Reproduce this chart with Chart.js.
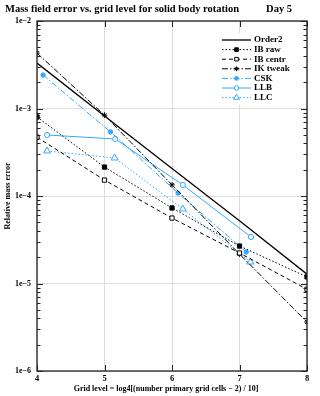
<!DOCTYPE html>
<html>
<head>
<meta charset="utf-8">
<script src="https://cdn.jsdelivr.net/npm/chart.js@4/dist/chart.umd.min.js"></script>
<style>
  html, body { margin: 0; padding: 0; background: #fff; }
  canvas { display: block; }
</style>
</head>
<body>
<canvas id="massChart" width="320" height="396"></canvas>
<script>
// grid levels
const levels = [4, 5, 6, 7, 8];
const order2 = [3.3e-3, 8.2e-4, 2.06e-4, 5.2e-5, 1.28e-5];
const ibRaw = [8.0e-4, 2.14e-4, 7.3e-5, 2.68e-5, 1.19e-5];
const ibCentr = [4.7e-4, 1.52e-4, 5.6e-5, 2.23e-5, 8.6e-6];
const ikTweak = [4.3e-3, 8.4e-4, 1.34e-4, 2.17e-5, 3.63e-6];

// the blue models are plotted slightly right of the grid level
const cskX = [4.09, 5.09, 6.09, 7.1];
const csk = [2.41e-3, 5.4e-4, 1.08e-4, 2.29e-5];
const llbX = [4.15, 5.16, 6.16, 7.17];
const llb = [4.98e-4, 4.48e-4, 1.34e-4, 3.4e-5];
const llcX = [4.15, 5.15, 6.16, 7.16];
const llc = [3.27e-4, 2.72e-4, 7.1e-5, 1.76e-5];

const xTicks = [4, 5, 6, 7, 8];
const yTicks = [1e-6, 1e-5, 1e-4, 1e-3, 1e-2];

const BLUE = 'rgb(50,168,255)';
const SERIF = '"Liberation Serif", "DejaVu Serif", serif';

function pts(xs, ys) {
    return xs.map((x, i) => ({x: x, y: ys[i]}));
}

function expLabel(v) {
    return '1e\u2212' + Math.round(-Math.log10(v));
}

// custom decorations: title, axis labels, frame, inner ticks, legend
const decorations = {
    id: 'decorations',
    afterDraw(chart) {
        const c = chart.ctx;
        const a = chart.chartArea;
        const xs = chart.scales.x;
        const ys = chart.scales.y;
        c.save();

        // frame
        c.strokeStyle = '#222';
        c.lineWidth = 1.3;
        c.setLineDash([]);
        c.strokeRect(a.left, a.top, a.right - a.left, a.bottom - a.top);

        // y ticks inside left and right
        c.lineWidth = 1;
        for (let e = -6; e <= -2; e++) {
            for (let m = 1; m <= 9; m++) {
                const v = m * Math.pow(10, e);
                if (v > 1e-2 * 1.0001) break;
                const py = Math.round(ys.getPixelForValue(v)) + 0.5;
                const len = m === 1 ? 6 : 3.5;
                c.beginPath();
                c.moveTo(a.left, py); c.lineTo(a.left + len, py);
                c.moveTo(a.right, py); c.lineTo(a.right - len, py);
                c.stroke();
            }
        }
        // x ticks inside top and bottom
        xTicks.forEach(v => {
            const px = Math.round(xs.getPixelForValue(v)) + 0.5;
            c.beginPath();
            c.moveTo(px, a.bottom); c.lineTo(px, a.bottom - 6);
            c.moveTo(px, a.top); c.lineTo(px, a.top + 6);
            c.stroke();
        });

        // title
        c.fillStyle = '#000';
        c.font = 'bold 10.5px ' + SERIF;
        c.textBaseline = 'middle';
        c.textAlign = 'left';
        c.fillText('Mass field error vs. grid level for solid body rotation', 5, 9);
        c.textAlign = 'right';
        c.fillText('Day 5', 292, 9);

        // axis titles
        c.font = 'bold 8px ' + SERIF;
        c.textAlign = 'center';
        c.fillText('Grid level = log4[(number primary grid cells \u2212 2) / 10]', 166, 389);
        c.save();
        c.translate(8, 196);
        c.rotate(-Math.PI / 2);
        c.fillText('Relative mass error', 0, 0);
        c.restore();

        // legend
        const lx0 = 222, lx1 = 251, tx = 254;
        let ly = 40;
        c.fillStyle = '#fff';
        c.fillRect(216, 33, 84, 72);
        c.font = 'bold 9px ' + SERIF;
        c.textAlign = 'left';
        chart.data.datasets.forEach(ds => {
            c.save();
            c.strokeStyle = ds.borderColor;
            c.lineWidth = ds.borderWidth;
            c.setLineDash(ds.borderDash || []);
            c.beginPath();
            c.moveTo(lx0, ly); c.lineTo(lx1, ly);
            c.stroke();
            c.restore();
            if (ds.pointRadius > 0) {
                c.save();
                c.fillStyle = ds.pointBackgroundColor;
                c.strokeStyle = ds.borderColor;
                c.lineWidth = 1;
                Chart.helpers.drawPoint(c, {
                    pointStyle: ds.pointStyle,
                    radius: ds.pointRadius * 0.85,
                    borderWidth: 1,
                    rotation: 0
                }, (lx0 + lx1) / 2, ly);
                c.restore();
            }
            c.fillStyle = '#000';
            c.fillText(ds.label, tx, ly);
            ly += 9.6;
        });

        c.restore();
    }
};

const ctx = document.getElementById('massChart').getContext('2d');
const massChart = new Chart(ctx, {
    type: 'line',
    data: {
        datasets: [
            {
                label: 'Order2',
                data: pts(levels, order2),
                borderColor: '#000',
                borderWidth: 1.3,
                pointRadius: 0
            },
            {
                label: 'IB raw',
                data: pts(levels, ibRaw),
                borderColor: '#000',
                borderWidth: 1,
                borderDash: [1.5, 2],
                pointStyle: 'rect',
                pointRadius: 3,
                pointBackgroundColor: '#000'
            },
            {
                label: 'IB centr',
                data: pts(levels, ibCentr),
                borderColor: '#000',
                borderWidth: 1,
                borderDash: [4, 3],
                pointStyle: 'rect',
                pointRadius: 3,
                pointBackgroundColor: '#fff'
            },
            {
                label: 'IK tweak',
                data: pts(levels, ikTweak),
                borderColor: '#000',
                borderWidth: 1,
                borderDash: [6, 2, 1.5, 2],
                pointStyle: 'star',
                pointRadius: 2.8,
                pointBackgroundColor: '#000'
            },
            {
                label: 'CSK',
                data: pts(cskX, csk),
                borderColor: BLUE,
                borderWidth: 1,
                borderDash: [6, 2, 1.5, 2],
                pointStyle: 'circle',
                pointRadius: 2.2,
                pointBackgroundColor: BLUE
            },
            {
                label: 'LLB',
                data: pts(llbX, llb),
                borderColor: BLUE,
                borderWidth: 1,
                pointStyle: 'circle',
                pointRadius: 2.6,
                pointBackgroundColor: '#fff'
            },
            {
                label: 'LLC',
                data: pts(llcX, llc),
                borderColor: BLUE,
                borderWidth: 1,
                borderDash: [1.5, 2],
                pointStyle: 'triangle',
                pointRadius: 4,
                pointBackgroundColor: '#fff'
            }
        ]
    },
    options: {
        responsive: false,
        animation: false,
        devicePixelRatio: 1,
        layout: {padding: {top: 21, right: 13, left: 0, bottom: 0}},
        plugins: {
            legend: {display: false},
            tooltip: {enabled: false}
        },
        elements: {line: {tension: 0, fill: false}, point: {borderWidth: 1}},
        scales: {
            x: {
                type: 'linear',
                min: 4,
                max: 8,
                afterFit: scale => { scale.height = 25; },
                afterBuildTicks: scale => { scale.ticks = xTicks.map(v => ({value: v})); },
                grid: {color: '#ddd', drawTicks: false},
                border: {display: false},
                ticks: {
                    color: '#000',
                    padding: 3,
                    font: {family: SERIF, size: 8.5, weight: 'bold'},
                    maxRotation: 0,
                    autoSkip: false
                }
            },
            y: {
                type: 'logarithmic',
                min: 1e-6,
                max: 1e-2,
                afterFit: scale => { scale.width = 37; },
                afterBuildTicks: scale => { scale.ticks = yTicks.map(v => ({value: v})); },
                grid: {color: '#ddd', drawTicks: false},
                border: {display: false},
                ticks: {
                    color: '#000',
                    padding: 6,
                    autoSkip: false,
                    font: {family: SERIF, size: 8, weight: 'bold'},
                    callback: v => expLabel(v)
                }
            }
        }
    },
    plugins: [decorations]
});
</script>
</body>
</html>
